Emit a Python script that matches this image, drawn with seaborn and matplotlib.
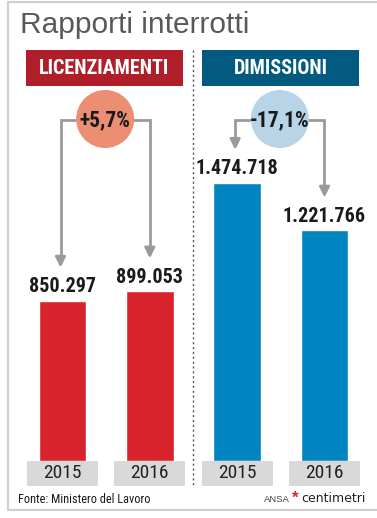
#! /usr/bin/env python
"""
Rapporti interrotti: licenziamenti e dimissioni 2015-2016
"""

import pandas as pd
import seaborn as sns
import matplotlib.pyplot as plt
from matplotlib import font_manager
from matplotlib.patches import Rectangle, Circle

# data
groups = ["LICENZIAMENTI", "LICENZIAMENTI", "DIMISSIONI", "DIMISSIONI"]
years = ["2015", "2016", "2015", "2016"]
values = [850297, 899053, 1474718, 1221766]
changes = ["+5,7%", "-17,1%"]

W, H = 377, 518
REGULAR = ["Liberation Sans", "DejaVu Sans"]

# look for a narrow family, the original uses a condensed grotesque
fonts = font_manager.fontManager.ttflist
names = {f.name for f in fonts}
for cand in ["Liberation Sans Narrow", "Roboto Condensed", "Open Sans Condensed",
             "DejaVu Sans Condensed"]:
    if cand in names:
        NARROW = dict(family=[cand, "DejaVu Sans"])
        break
else:
    if any(f.name == "DejaVu Sans" and str(f.stretch) == "condensed" for f in fonts):
        NARROW = dict(family=["DejaVu Sans"], stretch="condensed")
    else:
        NARROW = dict(family=["Roboto", "DejaVu Sans"])

bar_colors = {"LICENZIAMENTI": "#d8232c", "DIMISSIONI": "#0085c1"}
head_colors = {"LICENZIAMENTI": "#b01f29", "DIMISSIONI": "#025a80"}
circle_colors = {"LICENZIAMENTI": "#ec8e71", "DIMISSIONI": "#b7d5e7"}
ARROW = "#9a9a9a"


def fmt(v: int) -> str:
    return f"{v:,}".replace(",", ".")


sns.set_theme(style="white")
plt.rcParams["font.family"] = REGULAR

fig = plt.figure(figsize=(W / 100, H / 100), dpi=100)
fig.patch.set_facecolor("white")

# background layer in pixel coordinates (y downwards)
bg = fig.add_axes([0, 0, 1, 1])
bg.set_xlim(0, W)
bg.set_ylim(H, 0)
bg.axis("off")

# frame
bg.plot([8, 8], [2, 510], color="#cfcfcf", lw=1.5)
bg.plot([8, W], [2, 2], color="#cfcfcf", lw=1.5)
bg.plot([8, W], [510, 510], color="#cfcfcf", lw=1.5)

bg.text(20, 33, "Rapporti interrotti", fontsize=21.5, color="#58595b",
        ha="left", va="baseline", family=REGULAR)

# divider
bg.plot([193, 193], [50, 487], color="#555555", lw=1, ls=(0, (1.5, 2)))

# bars
df = pd.DataFrame({"group": groups, "year": years, "value": values})
df["key"] = [f"{g} {y}" for g, y in zip(groups, years)]

step = 87.33
left_px = 62.5 - step / 2
bottom_px = 461
top_px = 40
scale = 5300  # value per pixel
ax = fig.add_axes([left_px / W, (H - bottom_px) / H, 4 * step / W, (bottom_px - top_px) / H])
sns.barplot(data=df, x="key", y="value", hue="group", palette=bar_colors,
            width=0.545, dodge=False, legend=False, saturation=1, ax=ax)
ax.set_xlim(-0.5, 3.5)
ax.set_ylim(0, (bottom_px - top_px) * scale)
ax.patch.set_alpha(0)
ax.axis("off")

fx = ax.get_xaxis_transform()
box_h = 25 / (bottom_px - top_px)
for i, v in enumerate(values):
    ax.annotate(fmt(v), (i, v), xytext=(0, 3.5), textcoords="offset points",
                ha="center", va="bottom", fontsize=14.5, fontweight="bold",
                color="#1a1a1a", **NARROW)
    # year label box
    ax.add_patch(Rectangle((i - 0.407, -box_h), 0.814, box_h, transform=fx,
                           facecolor="#d9d9d9", edgecolor="none", clip_on=False))
    ax.text(i, -box_h / 2, years[i], transform=fx, ha="center", va="center",
            fontsize=14, color="#222222", **NARROW)


def to_px(x, y):
    dx, dy = ax.transData.transform((x, y))
    return dx, H - dy


# headers, circles and arrows
for k, g in enumerate(["LICENZIAMENTI", "DIMISSIONI"]):
    x0 = 26 + k * 176
    bg.add_patch(Rectangle((x0, 50), 157, 36, facecolor=head_colors[g], edgecolor="none"))
    bg.text(x0 + 78.5, 68.5, g, color="white", fontsize=14.5, fontweight="bold",
            ha="center", va="center", **NARROW)

    i0, i1 = 2 * k, 2 * k + 1
    xa, ya = to_px(i0, values[i0])
    xb, yb = to_px(i1, values[i1])
    cx = (xa + xb) / 2 - 1
    cy = 119
    for xp, yp in [(xa - 2, ya), (xb, yb)]:
        tip = yp - 33
        bg.plot([cx, xp, xp], [cy + 1, cy + 1, tip - 6], color=ARROW, lw=2,
                solid_joinstyle="miter")
        bg.annotate("", xy=(xp, tip), xytext=(xp, tip - 8),
                    arrowprops=dict(arrowstyle="-|>,head_width=0.25,head_length=0.5",
                                    color=ARROW, lw=2, shrinkA=0, shrinkB=0))
    bg.add_patch(Circle((cx, cy), 29, facecolor=circle_colors[g], edgecolor="none", zorder=3))
    bg.text(cx, cy + 1, changes[k], ha="center", va="center", fontsize=15.5,
            fontweight="bold", color="#1a1a1a", zorder=4, **NARROW)

# footer
bg.text(18, 503, "Fonte: Ministero del Lavoro", fontsize=8.8, color="#1a1a1a",
        ha="left", va="baseline", **NARROW)
bg.text(264, 502, "ANSA", fontsize=6.8, color="#444444", ha="left", va="baseline",
        family=REGULAR)
bg.text(292, 503, "*", fontsize=12, color="#d8232c", fontweight="bold",
        ha="left", va="baseline", family=REGULAR)
bg.text(301, 502, "centimetri", fontsize=9, color="#222222", ha="left",
        va="baseline", family=["DejaVu Sans"])

fig.savefig("out.png", dpi=100)
